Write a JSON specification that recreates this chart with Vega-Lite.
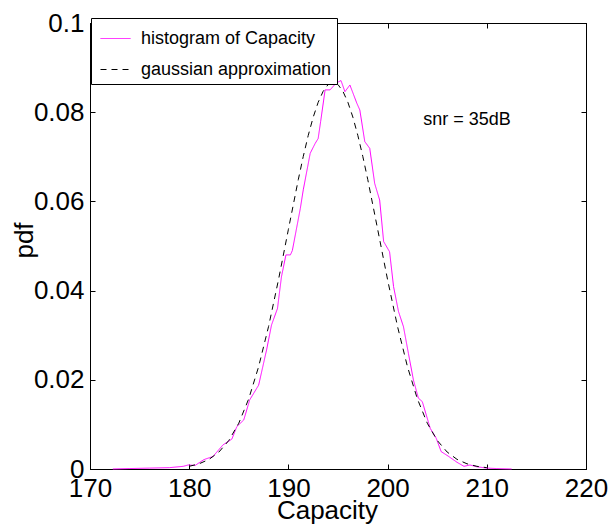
{
  "$schema": "https://vega.github.io/schema/vega-lite/v6.json",
  "width": 496,
  "height": 446,
  "autosize": "none",
  "padding": {"left": 90, "top": 23, "right": 24, "bottom": 59},
  "background": "white",
  "config": {
    "font": "Liberation Sans",
    "view": {"stroke": "black", "strokeWidth": 1},
    "axis": {
      "grid": false,
      "domainColor": "black",
      "domainWidth": 1,
      "tickColor": "black",
      "tickWidth": 1,
      "tickSize": -5,
      "labelColor": "black",
      "titleColor": "black",
      "labelFont": "Liberation Sans",
      "titleFont": "Liberation Sans",
      "labelFontSize": 26,
      "titleFontSize": 26,
      "titleFontWeight": "normal",
      "labelFlush": false,
      "labelOverlap": false,
      "labelBound": false
    },
    "legend": {
      "orient": "none",
      "legendX": 1,
      "legendY": -5,
      "strokeColor": "black",
      "fillColor": "white",
      "padding": 5,
      "labelFont": "Liberation Sans",
      "labelFontSize": 18,
      "labelColor": "black",
      "labelOffset": 10,
      "symbolType": "stroke",
      "symbolSize": 900,
      "symbolStrokeWidth": 1,
      "symbolOffset": 4,
      "rowPadding": 6,
      "labelLimit": 400
    }
  },
  "datasets": {
    "curves": [
      {"x": 172.3, "y": 0, "series": "histogram of Capacity"},
      {"x": 174, "y": 0.0001, "series": "histogram of Capacity"},
      {"x": 176, "y": 0.0002, "series": "histogram of Capacity"},
      {"x": 178, "y": 0.0003, "series": "histogram of Capacity"},
      {"x": 179.4, "y": 0.0006, "series": "histogram of Capacity"},
      {"x": 179.9, "y": 0.0009, "series": "histogram of Capacity"},
      {"x": 180.6, "y": 0.0008, "series": "histogram of Capacity"},
      {"x": 181.4, "y": 0.002, "series": "histogram of Capacity"},
      {"x": 181.6, "y": 0.0022, "series": "histogram of Capacity"},
      {"x": 182.4, "y": 0.0028, "series": "histogram of Capacity"},
      {"x": 183.4, "y": 0.0054, "series": "histogram of Capacity"},
      {"x": 184.3, "y": 0.0067, "series": "histogram of Capacity"},
      {"x": 184.8, "y": 0.0095, "series": "histogram of Capacity"},
      {"x": 185.5, "y": 0.011, "series": "histogram of Capacity"},
      {"x": 186.1, "y": 0.0155, "series": "histogram of Capacity"},
      {"x": 187.0, "y": 0.0188, "series": "histogram of Capacity"},
      {"x": 187.8, "y": 0.0267, "series": "histogram of Capacity"},
      {"x": 188.3, "y": 0.0323, "series": "histogram of Capacity"},
      {"x": 188.9, "y": 0.036, "series": "histogram of Capacity"},
      {"x": 189.3, "y": 0.0431, "series": "histogram of Capacity"},
      {"x": 189.75, "y": 0.048, "series": "histogram of Capacity"},
      {"x": 190.2, "y": 0.048, "series": "histogram of Capacity"},
      {"x": 190.4, "y": 0.049, "series": "histogram of Capacity"},
      {"x": 191.2, "y": 0.0584, "series": "histogram of Capacity"},
      {"x": 191.5, "y": 0.0626, "series": "histogram of Capacity"},
      {"x": 192.2, "y": 0.0708, "series": "histogram of Capacity"},
      {"x": 192.7, "y": 0.073, "series": "histogram of Capacity"},
      {"x": 193.0, "y": 0.0741, "series": "histogram of Capacity"},
      {"x": 193.25, "y": 0.0779, "series": "histogram of Capacity"},
      {"x": 193.7, "y": 0.085, "series": "histogram of Capacity"},
      {"x": 194.2, "y": 0.085, "series": "histogram of Capacity"},
      {"x": 194.8, "y": 0.0865, "series": "histogram of Capacity"},
      {"x": 195.3, "y": 0.0871, "series": "histogram of Capacity"},
      {"x": 195.7, "y": 0.0846, "series": "histogram of Capacity"},
      {"x": 196.2, "y": 0.0861, "series": "histogram of Capacity"},
      {"x": 196.9, "y": 0.082, "series": "histogram of Capacity"},
      {"x": 197.2, "y": 0.0805, "series": "histogram of Capacity"},
      {"x": 197.7, "y": 0.0734, "series": "histogram of Capacity"},
      {"x": 198.2, "y": 0.0719, "series": "histogram of Capacity"},
      {"x": 198.7, "y": 0.064, "series": "histogram of Capacity"},
      {"x": 199.2, "y": 0.0603, "series": "histogram of Capacity"},
      {"x": 199.6, "y": 0.051, "series": "histogram of Capacity"},
      {"x": 200.2, "y": 0.0487, "series": "histogram of Capacity"},
      {"x": 200.6, "y": 0.0409, "series": "histogram of Capacity"},
      {"x": 201.1, "y": 0.0353, "series": "histogram of Capacity"},
      {"x": 201.6, "y": 0.0319, "series": "histogram of Capacity"},
      {"x": 202.1, "y": 0.0259, "series": "histogram of Capacity"},
      {"x": 202.6, "y": 0.02, "series": "histogram of Capacity"},
      {"x": 203.1, "y": 0.0159, "series": "histogram of Capacity"},
      {"x": 203.5, "y": 0.0151, "series": "histogram of Capacity"},
      {"x": 204.3, "y": 0.0091, "series": "histogram of Capacity"},
      {"x": 204.9, "y": 0.0069, "series": "histogram of Capacity"},
      {"x": 205.4, "y": 0.0039, "series": "histogram of Capacity"},
      {"x": 206.1, "y": 0.0029, "series": "histogram of Capacity"},
      {"x": 207.0, "y": 0.0015, "series": "histogram of Capacity"},
      {"x": 207.7, "y": 0.0006, "series": "histogram of Capacity"},
      {"x": 208.3, "y": 0.0009, "series": "histogram of Capacity"},
      {"x": 209.0, "y": 0.0005, "series": "histogram of Capacity"},
      {"x": 210, "y": 0.0002, "series": "histogram of Capacity"},
      {"x": 211, "y": 0.0001, "series": "histogram of Capacity"},
      {"x": 212.5, "y": 0, "series": "histogram of Capacity"},
      {"x": 180, "y": 0.0006, "series": "gaussian approximation"},
      {"x": 181, "y": 0.00117, "series": "gaussian approximation"},
      {"x": 182, "y": 0.00216, "series": "gaussian approximation"},
      {"x": 183, "y": 0.00381, "series": "gaussian approximation"},
      {"x": 184, "y": 0.00641, "series": "gaussian approximation"},
      {"x": 185, "y": 0.01027, "series": "gaussian approximation"},
      {"x": 186, "y": 0.01573, "series": "gaussian approximation"},
      {"x": 187, "y": 0.02295, "series": "gaussian approximation"},
      {"x": 188, "y": 0.03195, "series": "gaussian approximation"},
      {"x": 189, "y": 0.04242, "series": "gaussian approximation"},
      {"x": 190, "y": 0.05373, "series": "gaussian approximation"},
      {"x": 191, "y": 0.06491, "series": "gaussian approximation"},
      {"x": 191.5, "y": 0.07009, "series": "gaussian approximation"},
      {"x": 192, "y": 0.0748, "series": "gaussian approximation"},
      {"x": 192.5, "y": 0.07888, "series": "gaussian approximation"},
      {"x": 193, "y": 0.08221, "series": "gaussian approximation"},
      {"x": 193.5, "y": 0.08467, "series": "gaussian approximation"},
      {"x": 194, "y": 0.08619, "series": "gaussian approximation"},
      {"x": 194.5, "y": 0.0867, "series": "gaussian approximation"},
      {"x": 195, "y": 0.08619, "series": "gaussian approximation"},
      {"x": 195.5, "y": 0.08467, "series": "gaussian approximation"},
      {"x": 196, "y": 0.08221, "series": "gaussian approximation"},
      {"x": 196.5, "y": 0.07888, "series": "gaussian approximation"},
      {"x": 197, "y": 0.0748, "series": "gaussian approximation"},
      {"x": 197.5, "y": 0.07009, "series": "gaussian approximation"},
      {"x": 198, "y": 0.06491, "series": "gaussian approximation"},
      {"x": 199, "y": 0.05373, "series": "gaussian approximation"},
      {"x": 200, "y": 0.04242, "series": "gaussian approximation"},
      {"x": 201, "y": 0.03195, "series": "gaussian approximation"},
      {"x": 202, "y": 0.02295, "series": "gaussian approximation"},
      {"x": 203, "y": 0.01573, "series": "gaussian approximation"},
      {"x": 204, "y": 0.01027, "series": "gaussian approximation"},
      {"x": 205, "y": 0.00641, "series": "gaussian approximation"},
      {"x": 206, "y": 0.00381, "series": "gaussian approximation"},
      {"x": 207, "y": 0.00216, "series": "gaussian approximation"},
      {"x": 208, "y": 0.00117, "series": "gaussian approximation"},
      {"x": 209, "y": 0.0006, "series": "gaussian approximation"},
      {"x": 210, "y": 0.0003, "series": "gaussian approximation"}
    ],
    "notes": [
      {"x": 203.6, "y": 0.0782, "label": "snr = 35dB"}
    ]
  },
  "layer": [
    {
      "data": {"name": "curves"},
      "mark": {"type": "line", "strokeWidth": 1},
      "encoding": {
        "x": {
          "field": "x", "type": "quantitative",
          "scale": {"domain": [170, 220], "nice": false, "zero": false},
          "axis": {
            "values": [170, 180, 190, 200, 210, 220],
            "title": "Capacity",
            "labelPadding": 11,
            "titleBaseline": "alphabetic",
            "titleY": 49,
            "titleX": 237
          }
        },
        "y": {
          "field": "y", "type": "quantitative",
          "scale": {"domain": [0, 0.1], "nice": false},
          "axis": {
            "values": [0, 0.02, 0.04, 0.06, 0.08, 0.1],
            "format": "~g",
            "title": "pdf",
            "labelPadding": 11,
            "titleBaseline": "alphabetic",
            "titleX": -58,
            "titleY": 217
          }
        },
        "color": {
          "field": "series", "type": "nominal", "title": null,
          "scale": {"domain": ["histogram of Capacity", "gaussian approximation"], "range": ["#ff00ff", "#000000"]}
        },
        "strokeDash": {
          "field": "series", "type": "nominal", "title": null,
          "scale": {"domain": ["histogram of Capacity", "gaussian approximation"], "range": [[1, 0], [6, 5]]}
        }
      }
    },
    {
      "data": {"name": "notes"},
      "mark": {"type": "text", "align": "left", "baseline": "middle", "fontSize": 18, "font": "Liberation Sans", "color": "black"},
      "encoding": {
        "x": {
          "field": "x", "type": "quantitative",
          "scale": {"domain": [170, 220], "nice": false, "zero": false},
          "axis": {"orient": "top", "values": [170, 180, 190, 200, 210, 220], "labels": false, "title": null}
        },
        "y": {
          "field": "y", "type": "quantitative",
          "scale": {"domain": [0, 0.1], "nice": false},
          "axis": {"orient": "right", "values": [0, 0.02, 0.04, 0.06, 0.08, 0.1], "labels": false, "title": null}
        },
        "text": {"field": "label"}
      }
    }
  ],
  "resolve": {"axis": {"x": "independent", "y": "independent"}}
}
